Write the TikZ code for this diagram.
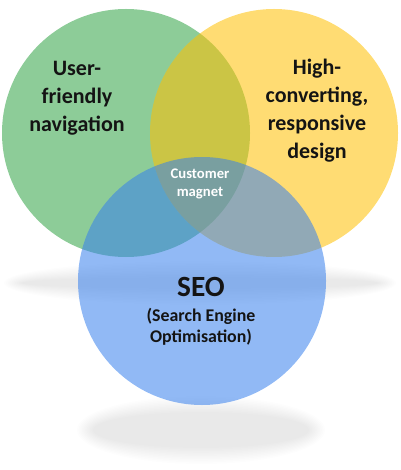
\documentclass[tikz,border=0pt]{standalone}
\usepackage{fontspec}
\setmainfont{Carlito}
\usetikzlibrary{positioning}
\definecolor{vn-green}{RGB}{48,162,68}
\definecolor{vn-yellow}{RGB}{255,192,0}
\definecolor{vn-blue}{RGB}{55,128,237}
\definecolor{vn-ink}{RGB}{20,20,20}
\tikzset{
  vn-disc/.style={circle,minimum size=186pt,inner sep=0pt,fill opacity=0.55},
  vn-label/.style={text=vn-ink,align=center,font=\bfseries\fontsize{16.5}{21}\selectfont},
  vn-haze/.style={fill=black,fill opacity=0.0085},
}

\begin{document}
\begin{tikzpicture}[x=0.75pt,y=-0.75pt]
\useasboundingbox (0,0) rectangle (400,470);

% ============ soft shadows (stacked faint ellipses) ============
\foreach \d in {0,...,10} {
  \fill[vn-haze] (200,283) ellipse ({196-1.8*\d} and {22-1.6*\d});
  \fill[vn-haze] (201,430) ellipse ({124-1.6*\d} and {34-1.6*\d});
}

% ============ the three circles ============
\node[vn-disc,fill=vn-green]  (nav)  at (126,133) {};
\node[vn-disc,fill=vn-yellow] (conv) at (274,133) {};
\node[vn-disc,fill=vn-blue]   (seo)  at (202,281) {};

% ============ labels ============
\node[vn-label] (navtext)  at (77,98)   {User-\\friendly\\navigation};
\node[vn-label] (convtext) at (317,111) {High-\\converting,\\responsive\\design};
\node[text=white,align=center,font=\bfseries\fontsize{11}{13.5}\selectfont]
     (magnet) at (200,184) {Customer\\magnet};
\node[text=vn-ink,font=\bfseries\fontsize{22}{26}\selectfont] (seotext) at (201,287) {SEO};
\node[text=vn-ink,align=center,font=\bfseries\fontsize{13.4}{15.8}\selectfont]
     (seofull) at (201,327) {(Search Engine\\Optimisation)};

\end{tikzpicture}
\end{document}
